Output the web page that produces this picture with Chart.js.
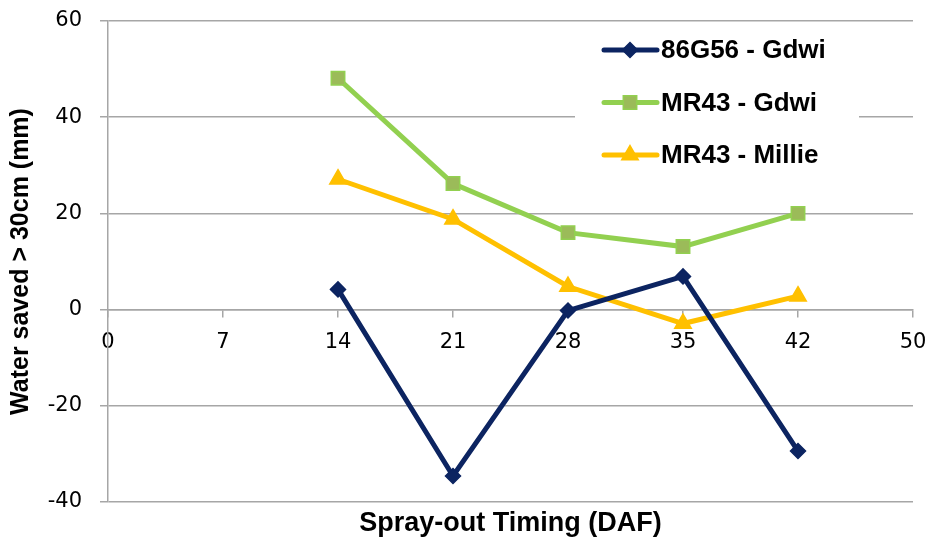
<!DOCTYPE html>
<html>
<head>
<meta charset="utf-8">
<script src="https://cdn.jsdelivr.net/npm/chart.js@4.4.1/dist/chart.umd.min.js"></script>
<style>
  html, body { margin: 0; padding: 0; background: #fff; }
  #wrap { position: relative; width: 931px; height: 539px; }
</style>
</head>
<body>
<div id="wrap"><canvas id="chart"></canvas></div>
<script>
// --- DATA ---
const timingLabels = ['0', '7', '14', '21', '28', '35', '42', '50'];
const seriesNames = ['86G56 - Gdwi', 'MR43 - Gdwi', 'MR43 - Millie'];
const g86Gdwi = [null, null, 4.2, -34.6, -0.2, 6.9, -29.4, null];
const mr43Gdwi = [null, null, 48.1, 26.2, 16, 13.1, 20, null];
const mr43Millie = [null, null, 27.1, 18.8, 4.8, -2.9, 2.8, null];
const yTicks = [-40, -20, 0, 20, 40, 60];

const NAVY = '#0c2461';
const GREEN = '#92d050';
const OLIVE = '#9bbb59';
const GOLD = '#ffc000';
const GRID = '#a6a6a6';

// legend drawn inside the plot, top right, on a white box
const boxLegend = {
    id: 'boxLegend',
    beforeDatasetsDraw(chart) {
        const ctx = chart.ctx;
        ctx.save();
        ctx.fillStyle = '#fff';
        ctx.fillRect(575, 24, 284, 156);
        chart.data.datasets.forEach((ds, i) => {
            const y = 50 + i * 52.5;
            ctx.strokeStyle = ds.borderColor;
            ctx.lineWidth = 5;
            ctx.lineCap = 'round';
            ctx.beginPath();
            ctx.moveTo(604, y);
            ctx.lineTo(657, y);
            ctx.stroke();
            ctx.fillStyle = ds.pointBackgroundColor;
            ctx.strokeStyle = ds.pointBorderColor;
            ctx.lineWidth = ds.pointBorderWidth;
            Chart.helpers.drawPoint(ctx, {
                pointStyle: ds.pointStyle, rotation: 0,
                radius: ds.pointRadius, borderWidth: ds.pointBorderWidth
            }, 630, y);
            ctx.fillStyle = '#000';
            ctx.font = 'bold 26px "Liberation Sans", Arial, sans-serif';
            ctx.textBaseline = 'middle';
            ctx.fillText(ds.label, 661, y + 1);
        });
        ctx.restore();
    }
};

const makeSeries = (label, data, color, style, radius, fill) => ({
    label: label,
    data: data,
    borderColor: color,
    borderWidth: 5,
    pointStyle: style,
    pointRadius: radius,
    pointHoverRadius: radius,
    pointBackgroundColor: fill,
    pointBorderColor: color,
    pointBorderWidth: 1.5,
    tension: 0,
    spanGaps: false
});

// the plot box is fixed by layout padding, not by label overflow
const noOverflow = (scale) => {
    scale.paddingTop = 0;
    scale.paddingBottom = 0;
    scale.paddingLeft = 0;
    scale.paddingRight = 0;
};

new Chart(document.getElementById('chart'), {
    type: 'line',
    data: {
        labels: timingLabels,
        datasets: [
            makeSeries(seriesNames[0], g86Gdwi, NAVY, 'rectRot', 7.5, NAVY),
            makeSeries(seriesNames[1], mr43Gdwi, GREEN, 'rect', 9.5, OLIVE),
            makeSeries(seriesNames[2], mr43Millie, GOLD, 'triangle', 9.5, GOLD)
        ]
    },
    options: {
        responsive: true,
        maintainAspectRatio: false,
        animation: false,
        layout: { padding: { top: 21, right: 18, left: 0, bottom: 0 } },
        plugins: {
            legend: { display: false },
            tooltip: { enabled: false },
            title: {
                display: true,
                position: 'bottom',
                fullSize: false,
                text: 'Spray-out Timing (DAF)',
                color: '#000',
                font: { family: '"Liberation Sans", Arial, sans-serif', size: 27, weight: 'bold', lineHeight: 1 },
                padding: { top: 8, bottom: 2 }
            }
        },
        scales: {
            x: {
                type: 'category',
                position: { y: 0 },
                offset: false,
                afterFit: noOverflow,
                grid: {
                    drawOnChartArea: false,
                    drawTicks: true,
                    tickLength: 7,
                    color: GRID,
                    lineWidth: 1.5
                },
                border: { color: GRID, width: 1.5 },
                ticks: {
                    color: '#000',
                    padding: 13,
                    maxRotation: 0,
                    autoSkip: false,
                    font: { family: '"DejaVu Sans", sans-serif', size: 21 }
                }
            },
            y: {
                min: yTicks[0],
                max: yTicks[yTicks.length - 1],
                afterBuildTicks(scale) {
                    scale.ticks = yTicks.map(v => ({ value: v }));
                },
                afterFit(scale) {
                    scale.width = 108;
                    noOverflow(scale);
                },
                grid: { color: GRID, lineWidth: 1.5, tickLength: 8 },
                border: { color: GRID, width: 1.5 },
                ticks: {
                    color: '#000',
                    padding: 18,
                    font: { family: '"DejaVu Sans", sans-serif', size: 21 }
                },
                title: {
                    display: true,
                    text: 'Water saved > 30cm (mm)',
                    color: '#000',
                    font: { family: '"Liberation Sans", Arial, sans-serif', size: 25, weight: 'bold' },
                    padding: { top: 6, bottom: 0 }
                }
            }
        }
    },
    plugins: [boxLegend]
});
</script>
</body>
</html>
